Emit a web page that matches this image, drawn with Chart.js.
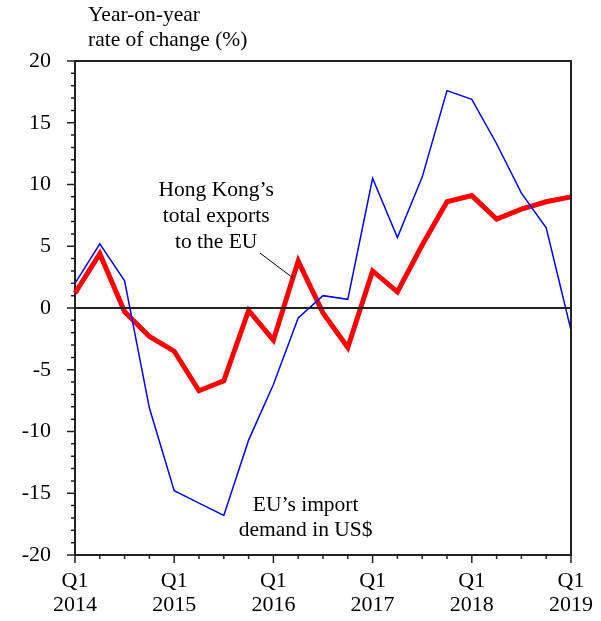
<!DOCTYPE html>
<html>
<head>
<meta charset="utf-8">
<script src="https://cdn.jsdelivr.net/npm/chart.js@4"></script>
<style>
  html, body { margin: 0; padding: 0; background: #fff; }
  #wrap { width: 601px; height: 621px; }
</style>
</head>
<body>
<div id="wrap"><canvas id="myChart" width="601" height="621"></canvas></div>
<script>
// quarters Q1 2014 .. Q1 2019
const quarters = [
    "Q1 2014", "Q2 2014", "Q3 2014", "Q4 2014",
    "Q1 2015", "Q2 2015", "Q3 2015", "Q4 2015",
    "Q1 2016", "Q2 2016", "Q3 2016", "Q4 2016",
    "Q1 2017", "Q2 2017", "Q3 2017", "Q4 2017",
    "Q1 2018", "Q2 2018", "Q3 2018", "Q4 2018",
    "Q1 2019"
]
const hkExports = [1.2, 4.4, -0.3, -2.3, -3.5, -6.7, -5.9, -0.2, -2.6, 3.8, -0.4, -3.2, 3.0, 1.3, 5.1, 8.6, 9.1, 7.2, 8.0, 8.6, 9.0]
const euImports = [2.0, 5.2, 2.2, -8.1, -14.8, -15.8, -16.8, -10.7, -6.2, -0.8, 1.0, 0.7, 10.5, 5.7, 10.6, 17.6, 16.9, 13.3, 9.3, 6.5, -1.8]
const yMin = -20, yMax = 20

const serif = "'Liberation Serif', 'Times New Roman', serif"
const ink = "#222"

const framePlugin = {
    id: "frame",
    afterDatasetsDraw(chart) {
        const { ctx, chartArea: a, scales: { x, y } } = chart
        ctx.save()
        ctx.strokeStyle = ink
        ctx.lineWidth = 2
        // top / right border and zero line
        ctx.beginPath()
        ctx.moveTo(a.left, a.top); ctx.lineTo(a.right, a.top); ctx.lineTo(a.right, a.bottom)
        const y0 = y.getPixelForValue(0)
        ctx.moveTo(a.left, y0); ctx.lineTo(a.right, y0)
        ctx.stroke()

        // y ticks, outside
        ctx.lineWidth = 1.5
        ctx.beginPath()
        for (let v = yMin; v <= yMax; v++) {
            const py = y.getPixelForValue(v)
            const len = v % 5 === 0 ? 8 : 4
            ctx.moveTo(a.left - len, py); ctx.lineTo(a.left, py)
        }
        // x ticks, below
        quarters.forEach((q, i) => {
            const px = x.getPixelForValue(i)
            const len = q.startsWith("Q1") ? 8 : 4
            ctx.moveTo(px, a.bottom); ctx.lineTo(px, a.bottom + len)
        })
        ctx.stroke()

        // axis title
        ctx.fillStyle = "#000"
        ctx.font = "21.5px " + serif
        ctx.textBaseline = "middle"
        ctx.textAlign = "left"
        ctx.fillText("Year-on-year", 88, 15)
        ctx.fillText("rate of change (%)", 88, 40)

        // series labels
        ctx.textAlign = "center"
        const hx = x.getPixelForValue(5.69), hy = y.getPixelForValue(9.55)
        ctx.fillText("Hong Kong\u2019s", hx, hy)
        ctx.fillText("total exports", hx, hy + 26)
        ctx.fillText("to the EU", hx, hy + 52)

        const ex = x.getPixelForValue(9.3), ey = y.getPixelForValue(-15.95)
        ctx.fillText("EU\u2019s import", ex, ey)
        ctx.fillText("demand in US$", ex, ey + 25)

        // leader line
        ctx.lineWidth = 1
        ctx.strokeStyle = "#000"
        ctx.beginPath()
        ctx.moveTo(x.getPixelForValue(7.46), y.getPixelForValue(4.45))
        ctx.lineTo(x.getPixelForValue(8.79), y.getPixelForValue(2.43))
        ctx.stroke()
        ctx.restore()
    }
}

const chart = new Chart(document.getElementById("myChart"), {
    type: "line",
    data: {
        labels: quarters,
        datasets: [
            {
                label: "EU's import demand in US$",
                data: euImports,
                borderColor: "#0000ff",
                borderWidth: 1.5,
                pointRadius: 0,
                tension: 0,
                fill: false
            },
            {
                label: "Hong Kong's total exports to the EU",
                data: hkExports,
                borderColor: "#ff0000",
                borderWidth: 5,
                borderJoinStyle: "miter",
                pointRadius: 0,
                tension: 0,
                fill: false
            }
        ]
    },
    options: {
        responsive: false,
        animation: false,
        layout: { padding: { top: 61, right: 30, left: 0, bottom: 0 } },
        plugins: {
            legend: { display: false },
            tooltip: { enabled: false },
            title: { display: false }
        },
        scales: {
            x: {
                type: "category",
                offset: false,
                grid: { display: false, drawTicks: false },
                border: { display: true, color: ink, width: 2 },
                afterFit(scale) {
                    scale.height = 66
                    scale.paddingLeft = 0
                    scale.paddingRight = 0
                },
                ticks: {
                    autoSkip: false,
                    maxRotation: 0,
                    padding: 14,
                    color: "#000",
                    font: { family: serif, size: 22, lineHeight: 1.1 },
                    callback(val, index) {
                        const q = quarters[index]
                        return q.startsWith("Q1") ? q.split(" ") : ""
                    }
                }
            },
            y: {
                min: yMin,
                max: yMax,
                grid: { display: false, drawTicks: false },
                border: { display: true, color: ink, width: 2 },
                afterFit(scale) {
                    scale.width = 75
                    scale.paddingTop = 0
                    scale.paddingBottom = 0
                },
                ticks: {
                    stepSize: 5,
                    padding: 24,
                    color: "#000",
                    font: { family: serif, size: 22 }
                }
            }
        }
    },
    plugins: [framePlugin]
})
</script>
</body>
</html>
